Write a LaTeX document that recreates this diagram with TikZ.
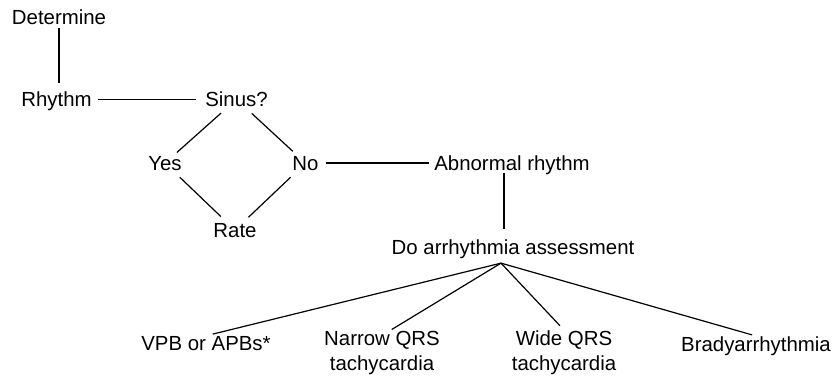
\documentclass[tikz,border=0pt]{standalone}
\usepackage{fontspec}
\setmainfont{Liberation Sans}
\usetikzlibrary{calc}
\begin{document}
\begin{tikzpicture}[x=1pt,y=-1pt,
  lbl/.style={inner sep=0pt,anchor=base,font=\fontsize{20.4}{25}\selectfont},
  lbl2/.style={inner sep=0pt,anchor=base,align=center,font=\fontsize{20.4}{25}\selectfont},
  conn/.style={line width=1.2pt,black}]
\useasboundingbox (0,0) rectangle (834,377);
\node[lbl] (det) at (59,24.6) {Determine};
\node[lbl] (rhy) at (56.5,106.6) {Rhythm};
\node[lbl] (sin) at (236.5,106.6) {Sinus?};
\node[lbl] (yes) at (165,170) {Yes};
\node[lbl] (no) at (305.5,170) {No};
\node[lbl] (rat) at (235,237) {Rate};
\node[lbl] (abn) at (512,170) {Abnormal rhythm};
\node[lbl] (do) at (513,254) {Do arrhythmia assessment};
\node[lbl] (vpb) at (206,350) {VPB or APBs*};
\node[lbl2] (nar) at (382,370) {Narrow QRS\\tachycardia};
\node[lbl2] (wid) at (564,370) {Wide QRS\\tachycardia};
\node[lbl] (bra) at (756,351) {Bradyarrhythmia};
\coordinate (apex) at ($(do.south)+(-12,4.7)$);
\draw[conn,shorten <=3.5pt,shorten >=8.6pt] (det.south) -- (det.south |- rhy.north);
\draw[conn,shorten <=6pt,shorten >=9pt] (sin.west -| rhy.east) -- (sin.west);
\draw[conn,shorten <=9pt,shorten >=5pt] (sin) -- (yes);
\draw[conn,shorten <=9.4pt,shorten >=6.5pt] (sin) -- (no);
\draw[conn,shorten <=10pt,shorten >=9pt] (yes) -- (rat);
\draw[conn,shorten <=10pt,shorten >=8pt] (no) -- (rat);
\draw[conn,shorten <=7pt,shorten >=5pt] (no.east) -- (no.east -| abn.west);
\draw[conn,shorten <=-1pt,shorten >=10pt] ([xshift=-8pt]abn.south) -- ([xshift=-8pt]abn.south |- do.north);
\draw[conn,shorten >=7pt] (apex) -- (vpb.north);
\draw[conn,shorten >=2pt] (apex) -- ([xshift=8pt]nar.north);
\draw[conn,shorten >=6pt] (apex) -- (wid.north);
\draw[conn,shorten >=4pt] (apex) -- (bra.north);
\end{tikzpicture}
\end{document}
